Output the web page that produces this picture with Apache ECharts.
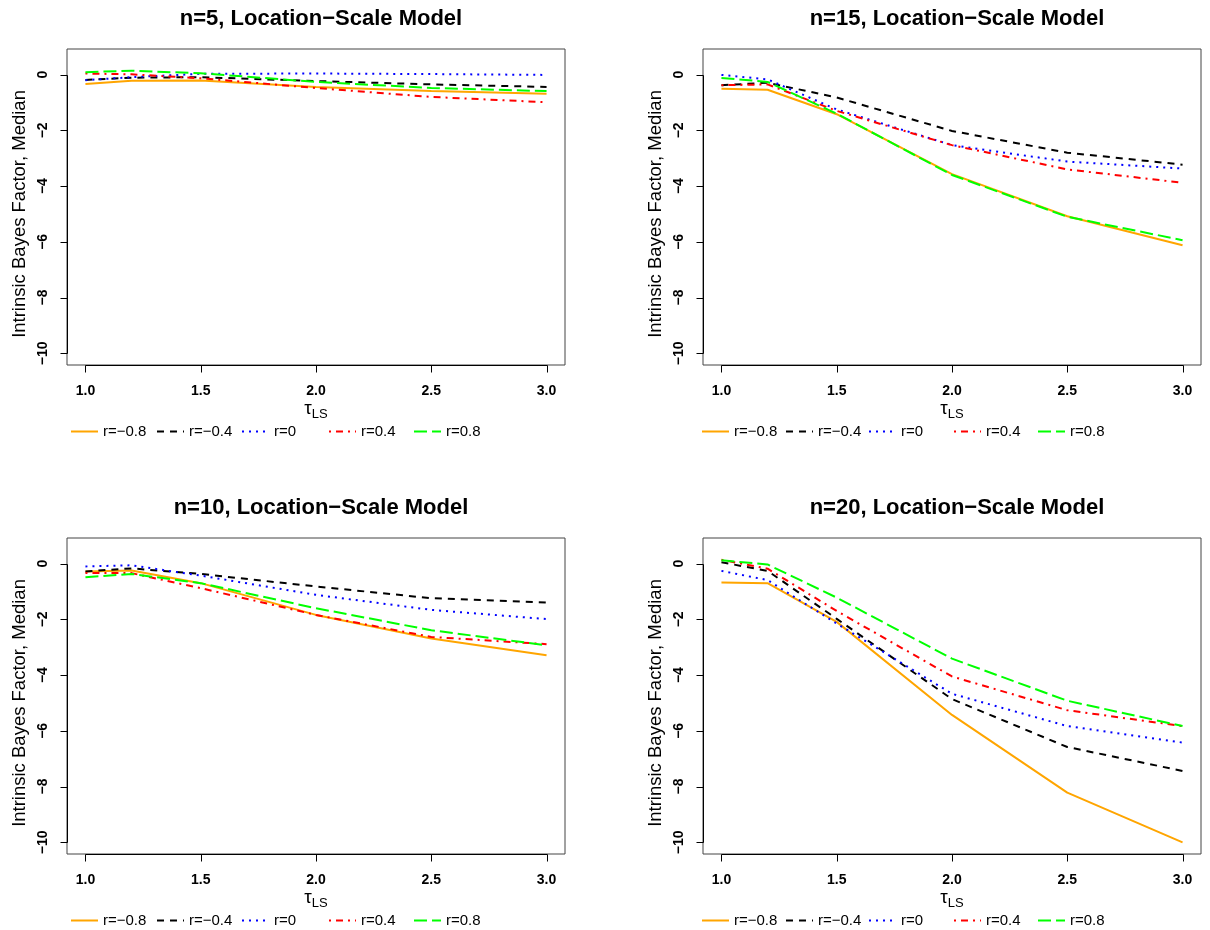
<!DOCTYPE html>
<html>
<head>
<meta charset="utf-8">
<script src="https://cdn.jsdelivr.net/npm/echarts@6/dist/echarts.min.js"></script>
<style>html,body{margin:0;padding:0;background:#fff;}#c{width:1210px;height:930px;}</style>
</head>
<body>
<div id="c"></div>
<script>
// tau_LS values
var tau = [1.0, 1.2, 1.5, 2.0, 2.5, 3.0];
var seriesNames = ['r=\u22120.8', 'r=\u22120.4', 'r=0', 'r=0.4', 'r=0.8'];
var panelTitles = ['n=5, Location\u2212Scale Model', 'n=15, Location\u2212Scale Model',
                   'n=10, Location\u2212Scale Model', 'n=20, Location\u2212Scale Model'];
var xTicks = [1.0, 1.5, 2.0, 2.5, 3.0];
var yTicks = [-10, -8, -6, -4, -2, 0];
var xTickMin = 1.0, xTickMax = 3.0, xTickStep = 0.5;
var yTickMin = -10, yTickMax = 0, yTickStep = 2;

// n=5
var n5_rm08 = [-0.34, -0.22, -0.21, -0.44, -0.59, -0.69];
var n5_rm04 = [-0.19, -0.11, -0.09, -0.23, -0.35, -0.44];
var n5_r0   = [-0.20, -0.09, 0.03, 0.04, 0.02, -0.01];
var n5_r04  = [0.04, 0.01, -0.13, -0.48, -0.80, -0.99];
var n5_r08  = [0.09, 0.14, 0.05, -0.26, -0.48, -0.59];
// n=15
var n15_rm08 = [-0.51, -0.54, -1.42, -3.57, -5.08, -6.12];
var n15_rm04 = [-0.38, -0.29, -0.82, -2.02, -2.80, -3.23];
var n15_r0   = [-0.01, -0.17, -1.25, -2.53, -3.12, -3.37];
var n15_r04  = [-0.38, -0.35, -1.30, -2.53, -3.40, -3.88];
var n15_r08  = [-0.12, -0.26, -1.40, -3.60, -5.10, -5.94];
// n=10
var n10_rm08 = [-0.28, -0.25, -0.70, -1.84, -2.69, -3.29];
var n10_rm04 = [-0.28, -0.17, -0.37, -0.82, -1.24, -1.40];
var n10_r0   = [-0.10, -0.06, -0.43, -1.12, -1.66, -1.99];
var n10_r04  = [-0.34, -0.34, -0.88, -1.84, -2.63, -2.89];
var n10_r08  = [-0.49, -0.37, -0.70, -1.60, -2.39, -2.93];
// n=20
var n20_rm08 = [-0.68, -0.70, -2.09, -5.43, -8.22, -10.00];
var n20_rm04 = [0.05, -0.26, -1.98, -4.86, -6.58, -7.44];
var n20_r0   = [-0.26, -0.59, -2.15, -4.67, -5.83, -6.42];
var n20_r04  = [0.14, -0.18, -1.70, -4.05, -5.26, -5.83];
var n20_r08  = [0.12, -0.03, -1.22, -3.41, -4.92, -5.83];

var panels = [
  [n5_rm08, n5_rm04, n5_r0, n5_r04, n5_r08],
  [n15_rm08, n15_rm04, n15_r0, n15_r04, n15_r08],
  [n10_rm08, n10_rm04, n10_r0, n10_r04, n10_r08],
  [n20_rm08, n20_rm04, n20_r0, n20_r04, n20_r08]
];

var colors = ['#FFA500', '#000000', '#0000FF', '#FF0000', '#00FF00'];
var dashes = ['solid', [7, 6], [2, 5], [2, 5, 7, 5], [13, 5]];

var FONT = 'Liberation Sans';
// outer plot box (R style: data range extended by 4% on each side)
var gridPos = [
  {left: 67, top: 49},
  {left: 703, top: 49},
  {left: 67, top: 538},
  {left: 703, top: 538}
];
var GW = 498, GH = 316, TICK = 7;
var XLO = 0.92, XHI = 3.08, YLO = -10.42, YHI = 0.92;
var legendOffsets = [[3, 89, 174, 261, 346], [-2, 82, 165, 250, 334]];

var grids = [], xAxes = [], yAxes = [], series = [], titles = [], legends = [];

// outer boxes: grids 0..3 (hidden axes, used to place tick marks)
gridPos.forEach(function (g, p) {
  grids.push({left: g.left, top: g.top, width: GW, height: GH, show: true,
              borderColor: '#444', borderWidth: 1, backgroundColor: 'transparent'});
  xAxes.push({type: 'value', gridIndex: p, min: XLO, max: XHI, show: false});
  yAxes.push({type: 'value', gridIndex: p, min: YLO, max: YHI, show: false});
});

// inner grids 4..7: span exactly the tick range; labels + names; series
gridPos.forEach(function (g, p) {
  var il = g.left + (xTickMin - XLO) / (XHI - XLO) * GW;
  var iw = (xTickMax - xTickMin) / (XHI - XLO) * GW;
  var it = g.top + (YHI - yTickMax) / (YHI - YLO) * GH;
  var ih = (yTickMax - yTickMin) / (YHI - YLO) * GH;
  var gi = 4 + p;
  grids.push({left: il, top: it, width: iw, height: ih, show: false});
  xAxes.push({
    type: 'value', gridIndex: gi, min: xTickMin, max: xTickMax, interval: xTickStep, position: 'bottom',
    offset: (g.top + GH) - (it + ih),
    splitLine: {show: false},
    axisLine: {show: false, onZero: false},
    axisTick: {show: false},
    axisLabel: {margin: 19, fontFamily: FONT, fontWeight: 'bold', fontSize: 14, color: '#000',
                showMinLabel: true, showMaxLabel: true,
                formatter: function (v) { return v.toFixed(1); }},
    name: '{t|\u03C4}{s|LS}', nameLocation: 'middle', nameGap: 28,
    nameTextStyle: {rich: {
      t: {fontFamily: FONT, fontSize: 19, color: '#000', verticalAlign: 'top'},
      s: {fontFamily: FONT, fontSize: 13, color: '#000', padding: [9, 0, 0, 0], verticalAlign: 'top'}
    }}
  });
  yAxes.push({
    type: 'value', gridIndex: gi, min: yTickMin, max: yTickMax, interval: yTickStep, position: 'left',
    offset: il - g.left,
    splitLine: {show: false},
    axisLine: {show: false, onZero: false},
    axisTick: {show: false},
    axisLabel: {rotate: 90, margin: 17, fontFamily: FONT, fontWeight: 'bold', fontSize: 14, color: '#000',
                showMinLabel: true, showMaxLabel: true,
                formatter: function (v) { return v < 0 ? '\u2212' + Math.abs(v) : String(v); }},
    name: 'Intrinsic Bayes Factor, Median', nameLocation: 'middle', nameRotate: 90, nameGap: 38,
    nameTextStyle: {fontFamily: FONT, fontSize: 18.5, color: '#000'}
  });
  titles.push({
    text: panelTitles[p], left: g.left + GW / 2, top: g.top - 46, textAlign: 'center',
    textStyle: {fontFamily: FONT, fontWeight: 'bold', fontSize: 22, color: '#000'}
  });
  var offs = legendOffsets[p % 2];
  seriesNames.forEach(function (nm, k) {
    legends.push({
      data: [nm], left: g.left + offs[k], top: g.top + 375, padding: 0,
      orient: 'horizontal', itemWidth: 27, itemHeight: 14,
      selectedMode: false,
      itemStyle: {opacity: 0},
      textStyle: {fontFamily: FONT, fontSize: 15, color: '#000'}
    });
  });
  panels[p].forEach(function (vals, k) {
    series.push({
      type: 'line', name: seriesNames[k], xAxisIndex: gi, yAxisIndex: gi,
      data: tau.map(function (x, i) { return [x, vals[i]]; }),
      symbol: 'none', showSymbol: false, silent: true, clip: false,
      lineStyle: {color: colors[k], width: 2, type: dashes[k]},
      itemStyle: {color: colors[k]}
    });
  });
});

var chart = echarts.init(document.getElementById('c'), null, {renderer: 'canvas'});
chart.setOption({
  animation: false,
  backgroundColor: '#fff',
  title: titles, grid: grids, xAxis: xAxes, yAxis: yAxes, legend: legends, series: series
});

// axis line + tick marks (R style), positioned through the library's own scales
var tickEls = [];
gridPos.forEach(function (g, p) {
  var finder = {xAxisIndex: p, yAxisIndex: p};
  var a = chart.convertToPixel(finder, [xTickMin, YLO]);
  var b = chart.convertToPixel(finder, [xTickMax, YLO]);
  var yb = Math.round(a[1]) + 0.5;
  tickEls.push({type: 'line', silent: true, z: 100,
    shape: {x1: Math.round(a[0]) + 0.5, y1: yb, x2: Math.round(b[0]) + 0.5, y2: yb},
    style: {stroke: '#000', lineWidth: 1}});
  xTicks.forEach(function (v) {
    var pt = chart.convertToPixel(finder, [v, YLO]);
    var x = Math.round(pt[0]) + 0.5;
    tickEls.push({type: 'line', silent: true, z: 100,
      shape: {x1: x, y1: yb, x2: x, y2: yb + TICK},
      style: {stroke: '#000', lineWidth: 1}});
  });
  var c = chart.convertToPixel(finder, [XLO, yTickMin]);
  var d = chart.convertToPixel(finder, [XLO, yTickMax]);
  var xl = Math.round(c[0]) + 0.5;
  tickEls.push({type: 'line', silent: true, z: 100,
    shape: {x1: xl, y1: Math.round(c[1]) + 0.5, x2: xl, y2: Math.round(d[1]) + 0.5},
    style: {stroke: '#000', lineWidth: 1}});
  yTicks.forEach(function (v) {
    var pt = chart.convertToPixel(finder, [XLO, v]);
    var y = Math.round(pt[1]) + 0.5;
    tickEls.push({type: 'line', silent: true, z: 100,
      shape: {x1: xl, y1: y, x2: xl - TICK, y2: y},
      style: {stroke: '#000', lineWidth: 1}});
  });
});
chart.setOption({graphic: {elements: tickEls}});
</script>
</body>
</html>
